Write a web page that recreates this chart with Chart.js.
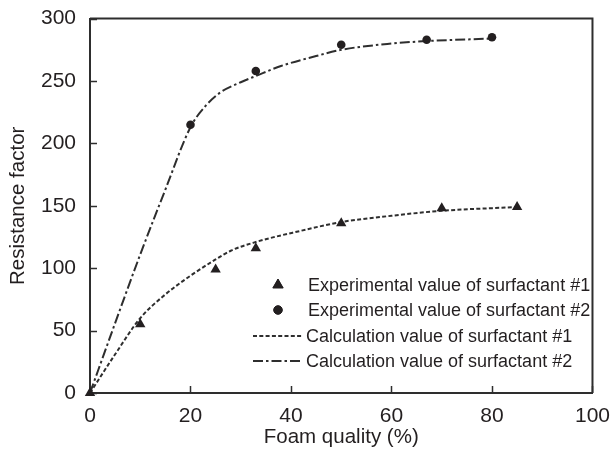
<html>
  <head>
    <meta charset="UTF-8">
    <title>Resistance factor vs foam quality</title>
    <style>
      body { margin: 0; background: #ffffff; }
      #wrap { width: 613px; height: 450px; }
    </style>
    <script src="https://cdn.jsdelivr.net/npm/chart.js"></script>
  </head>
  <body>
    <div id="wrap"><canvas id="foamChart" width="613" height="450"></canvas></div>
    <script>
    // measured points
    const expX1 = [0, 10, 25, 33, 50, 70, 85];
    const expY1 = [0, 55, 99, 116, 136, 148, 149];
    const expX2 = [20, 33, 50, 67, 80];
    const expY2 = [215, 258, 279, 283, 285];

    // calculated curves
    const calcX1 = [0, 5, 10, 15, 20, 25, 28, 33, 42, 50, 60, 70, 85];
    const calcY1 = [0, 31, 60, 79, 94, 107, 114, 121, 130, 137, 142, 146, 149];
    const calcX2 = [0, 5, 10, 15, 20, 23, 26, 30, 33, 38, 45, 50, 60, 67, 80];
    const calcY2 = [0, 56, 111, 163, 213, 230, 241, 249, 254, 262, 270, 275, 280, 282, 284];

    const legendLabels = [
      'Experimental value of surfactant #1',
      'Experimental value of surfactant #2',
      'Calculation value of surfactant #1',
      'Calculation value of surfactant #2'
    ];

    const ink = '#231f20';
    const lineInk = '#2e2e2e';
    const fontFamily = '"Liberation Sans", Arial, Helvetica, sans-serif';

    const pts = (xs, ys) => xs.map((x, i) => ({ x: x, y: ys[i] }));

    // frame on top/right plus inward tick marks
    const framePlugin = {
      id: 'frame',
      beforeDatasetsDraw(chart) {
        const { ctx, chartArea: a, scales } = chart;
        ctx.save();
        ctx.strokeStyle = lineInk;
        ctx.lineWidth = 2;
        ctx.beginPath();
        ctx.moveTo(a.left, a.top);
        ctx.lineTo(a.right, a.top);
        ctx.lineTo(a.right, a.bottom);
        ctx.stroke();
        ctx.lineWidth = 1.5;
        ctx.beginPath();
        scales.x.ticks.forEach(t => {
          const px = Math.round(scales.x.getPixelForValue(t.value)) + 0.5;
          ctx.moveTo(px, a.bottom);
          ctx.lineTo(px, a.bottom - 7);
        });
        scales.y.ticks.forEach(t => {
          const py = Math.round(scales.y.getPixelForValue(t.value)) + 0.5;
          ctx.moveTo(a.left, py);
          ctx.lineTo(a.left + 7, py);
        });
        ctx.stroke();
        ctx.restore();
      }
    };

    // legend inside the plot, lower right
    const legendPlugin = {
      id: 'insideLegend',
      afterDraw(chart) {
        const { ctx } = chart;
        const rows = [285, 310, 336, 361];
        const symX = 278;
        ctx.save();
        ctx.fillStyle = ink;
        ctx.font = '18px ' + fontFamily;
        ctx.textBaseline = 'middle';
        ctx.textAlign = 'left';
        legendLabels.forEach((label, i) => {
          const y = rows[i];
          const ds = chart.data.datasets[i];
          if (i < 2) {
            Chart.helpers.drawPoint(ctx, {
              pointStyle: ds.pointStyle,
              radius: ds.pointRadius,
              borderWidth: 1
            }, symX, y);
            ctx.fill();
            ctx.fillText(label, 308, y + 1);
          } else {
            ctx.save();
            ctx.strokeStyle = lineInk;
            ctx.lineWidth = 2;
            ctx.setLineDash(ds.borderDash);
            ctx.beginPath();
            ctx.moveTo(253, y);
            ctx.lineTo(303, y);
            ctx.stroke();
            ctx.restore();
            ctx.fillText(label, 306, y + 1);
          }
        });
        ctx.restore();
      }
    };

    new Chart(document.getElementById('foamChart').getContext('2d'), {
      type: 'scatter',
      data: {
        datasets: [
          {
            label: legendLabels[0],
            data: pts(expX1, expY1),
            pointStyle: 'triangle',
            pointRadius: 6,
            backgroundColor: ink,
            borderColor: ink,
            borderWidth: 0,
            clip: false
          },
          {
            label: legendLabels[1],
            data: pts(expX2, expY2),
            pointStyle: 'circle',
            pointRadius: 4.3,
            backgroundColor: ink,
            borderColor: ink,
            borderWidth: 0,
            clip: false
          },
          {
            type: 'line',
            label: legendLabels[2],
            data: pts(calcX1, calcY1),
            borderColor: lineInk,
            borderWidth: 2,
            borderDash: [4, 2.3],
            pointRadius: 0,
            cubicInterpolationMode: 'monotone',
            fill: false
          },
          {
            type: 'line',
            label: legendLabels[3],
            data: pts(calcX2, calcY2),
            borderColor: lineInk,
            borderWidth: 2,
            borderDash: [10, 3, 2.5, 3],
            pointRadius: 0,
            cubicInterpolationMode: 'monotone',
            fill: false
          }
        ]
      },
      options: {
        responsive: false,
        animation: false,
        layout: { padding: { left: 0, top: 18, right: 16, bottom: 0 } },
        plugins: {
          legend: { display: false },
          tooltip: { enabled: false }
        },
        scales: {
          x: {
            type: 'linear',
            min: 0,
            max: 100,
            ticks: {
              stepSize: 20,
              color: ink,
              padding: 3,
              maxRotation: 0,
              font: { family: fontFamily, size: 21 }
            },
            grid: { display: false },
            border: { display: true, color: lineInk, width: 2 },
            title: {
              display: true,
              text: 'Foam quality (%)',
              color: ink,
              padding: { top: 0, bottom: 0 },
              font: { family: fontFamily, size: 20.5 }
            },
            afterFit(scale) { scale.height = 57; }
          },
          y: {
            min: 0,
            max: 300,
            ticks: {
              stepSize: 50,
              color: ink,
              padding: 6,
              font: { family: fontFamily, size: 21 }
            },
            grid: { display: false },
            border: { display: true, color: lineInk, width: 2 },
            title: {
              display: true,
              text: 'Resistance factor',
              color: ink,
              padding: { top: 6, bottom: 0 },
              font: { family: fontFamily, size: 20.5 }
            },
            afterFit(scale) { scale.width = 90; }
          }
        }
      },
      plugins: [framePlugin, legendPlugin]
    });
    </script>
  </body>
</html>
